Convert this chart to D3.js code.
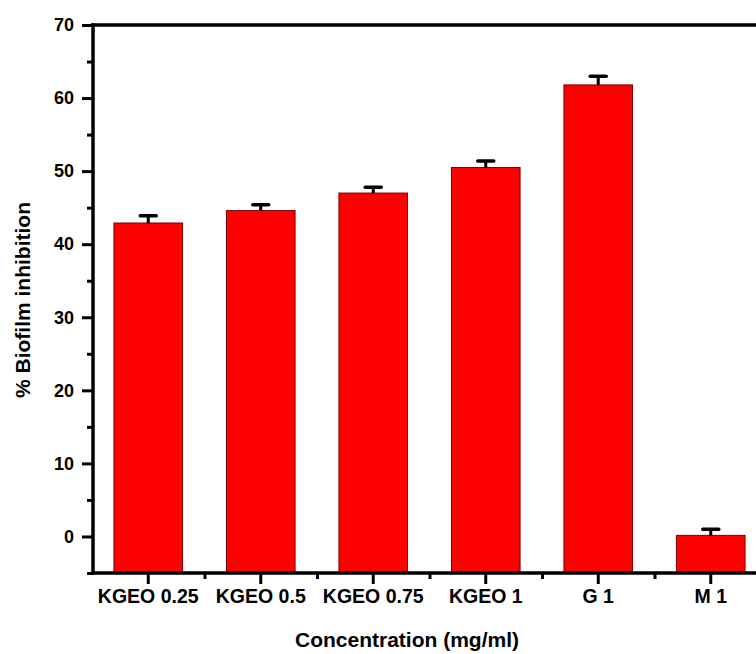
<!DOCTYPE html>
<html>
<head>
<meta charset="utf-8">
<script src="https://cdn.jsdelivr.net/npm/d3@7"></script>
<style>
    body { margin: 0; background: #fff; }
    svg { display: block; font-family: Arial, "Liberation Sans", sans-serif; }
</style>
</head>
<body>
<script>
// chart data
var categories = ["KGEO 0.25", "KGEO 0.5", "KGEO 0.75", "KGEO 1", "G 1", "M 1"];
var inhibition = [42.9, 44.6, 47.0, 50.5, 61.8, 0.15];
var errors = [1.0, 0.8, 0.8, 0.9, 1.2, 0.85];
var yMajorTicks = [0, 10, 20, 30, 40, 50, 60, 70];
var yMinorTicks = [-5, 5, 15, 25, 35, 45, 55, 65];

drawChart();

function drawChart() {
    // frame
    var width = 756,
        height = 654;
    var left = 93, right = 768, top = 25, bottom = 573;

    var svg = d3.select("body")
        .append("svg")
        .attr("width", width)
        .attr("height", height);

    var x = d3.scaleBand()
        .domain(categories)
        .range([left - 1, right - 1])
        .paddingInner(0.39)
        .paddingOuter(0.195);

    var y = d3.scaleLinear()
        .domain([-5, 70])
        .range([bottom, top]);

    // bars, starting from the bottom of the axis
    svg.selectAll(".bar")
        .data(inhibition)
        .enter()
        .append("rect")
        .attr("class", "bar")
        .attr("x", function(d, i){ return x(categories[i]); })
        .attr("y", function(d){ return y(d); })
        .attr("width", x.bandwidth())
        .attr("height", function(d){ return y(-5) - y(d); })
        .attr("fill", "#ff0000")
        .attr("stroke", "#7a0000")
        .attr("stroke-width", 1);

    // upper error bars
    var cx = function(i){ return x(categories[i]) + x.bandwidth() / 2; };
    svg.selectAll(".err")
        .data(inhibition)
        .enter()
        .append("line")
        .attr("x1", function(d, i){ return cx(i); })
        .attr("x2", function(d, i){ return cx(i); })
        .attr("y1", function(d){ return y(d); })
        .attr("y2", function(d, i){ return y(d + errors[i]); })
        .attr("stroke", "#000")
        .attr("stroke-width", 3);
    svg.selectAll(".cap")
        .data(inhibition)
        .enter()
        .append("line")
        .attr("x1", function(d, i){ return cx(i) - 8; })
        .attr("x2", function(d, i){ return cx(i) + 8; })
        .attr("y1", function(d, i){ return y(d + errors[i]); })
        .attr("y2", function(d, i){ return y(d + errors[i]); })
        .attr("stroke", "#000")
        .attr("stroke-width", 3.5)
        .attr("stroke-linecap", "round");

    // y axis
    var yMinor = svg.append("g")
        .attr("transform", "translate(" + left + ",0)")
        .call(d3.axisLeft(y).tickValues(yMinorTicks).tickSize(6).tickFormat(""));
    var yAxis = svg.append("g")
        .attr("transform", "translate(" + left + ",0)")
        .call(d3.axisLeft(y).tickValues(yMajorTicks).tickSize(11).tickPadding(8));

    // x axis: major at categories, minor between them
    var gap = (x.step() - x.bandwidth()) / 2;
    var xMinorVals = categories.map(function(c){ return x(c) + x.bandwidth() + gap; });
    var xMinor = svg.append("g")
        .attr("transform", "translate(0," + bottom + ")")
        .call(d3.axisBottom(d3.scaleIdentity()).tickValues(xMinorVals).tickSize(6).tickFormat(""));
    var xAxis = svg.append("g")
        .attr("transform", "translate(0," + bottom + ")")
        .call(d3.axisBottom(x).tickSize(11).tickPadding(5));

    [yMinor, yAxis, xMinor, xAxis].forEach(function(g){
        g.select(".domain").remove();
        g.selectAll(".tick line").attr("stroke-width", 3);
    });

    // frame lines
    svg.append("line")
        .attr("x1", left - 1.75).attr("x2", right)
        .attr("y1", top).attr("y2", top)
        .attr("stroke", "#000").attr("stroke-width", 3.5);
    svg.append("line")
        .attr("x1", left).attr("x2", left)
        .attr("y1", top - 1.75).attr("y2", bottom + 1.75)
        .attr("stroke", "#000").attr("stroke-width", 3.5);
    svg.append("line")
        .attr("x1", left).attr("x2", right)
        .attr("y1", bottom).attr("y2", bottom)
        .attr("stroke", "#000").attr("stroke-width", 3.5);

    yAxis.selectAll("text")
        .attr("font-size", 18)
        .attr("font-weight", "bold")
        .attr("fill", "#000");
    xAxis.selectAll("text")
        .attr("font-size", 19.5)
        .attr("font-weight", "bold")
        .attr("fill", "#000");

    // axis titles
    svg.append("text")
        .attr("x", 407)
        .attr("y", 647)
        .attr("text-anchor", "middle")
        .attr("font-size", 21)
        .attr("font-weight", "bold")
        .text("Concentration (mg/ml)");

    svg.append("text")
        .attr("transform", "translate(30,300) rotate(-90)")
        .attr("text-anchor", "middle")
        .attr("font-size", 21)
        .attr("font-weight", "bold")
        .text("% Biofilm inhibition");
}
</script>
</body>
</html>
